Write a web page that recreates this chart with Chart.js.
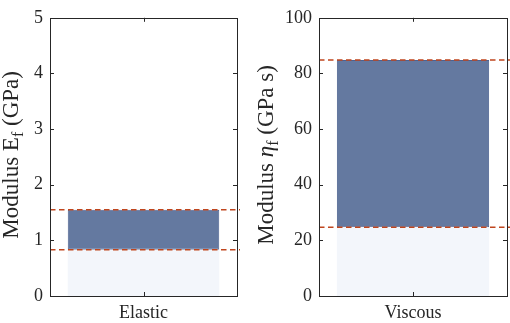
<!DOCTYPE html>
<html>
<head>
<meta charset="utf-8">
<script src="https://cdn.jsdelivr.net/npm/chart.js@4.4.1/dist/chart.umd.min.js"></script>
<style>
html,body{margin:0;padding:0;background:#fff;}
#wrap{position:relative;width:510px;height:323px;}
.cv{position:absolute;top:0;width:255px;height:323px;}
</style>
</head>
<body>
<div id="wrap">
<div class="cv" style="left:0"><canvas id="c1"></canvas></div>
<div class="cv" style="left:255px"><canvas id="c2"></canvas></div>
</div>
<script>
// values
const elasticCat = ['Elastic'];
const elasticLow = 0.83;
const elasticHigh = 1.55;
const elasticTicks = [0, 1, 2, 3, 4, 5];

const viscousCat = ['Viscous'];
const viscousLow = 24.7;
const viscousHigh = 84.8;
const viscousTicks = [0, 20, 40, 60, 80, 100];

const serif = '"Liberation Serif", "Times New Roman", serif';
const ink = '#262626';

// box + inward ticks + dashed bounds + y title with subscript
const boxPlugin = {
  id: 'boxstuff',
  afterDatasetsDraw(chart, args, o) {
    const ctx = chart.ctx, a = chart.chartArea;
    const y = chart.scales.y, x = chart.scales.x;
    ctx.save();
    // dashed bound lines
    ctx.strokeStyle = '#c0461e';
    ctx.lineWidth = 1.5;
    ctx.setLineDash([5.5, 3.5]);
    o.bounds.forEach(v => {
      const py = y.getPixelForValue(v);
      ctx.beginPath();
      ctx.moveTo(a.left, py);
      ctx.lineTo(a.right + 3, py);
      ctx.stroke();
    });
    ctx.setLineDash([]);
    // box
    ctx.strokeStyle = ink;
    ctx.lineWidth = 1;
    ctx.strokeRect(Math.round(a.left) + 0.5, Math.round(a.top) + 0.5,
      Math.round(a.right - a.left), Math.round(a.bottom - a.top));
    // inward ticks
    ctx.beginPath();
    y.ticks.forEach(t => {
      const py = Math.round(y.getPixelForValue(t.value)) + 0.5;
      ctx.moveTo(a.left, py); ctx.lineTo(a.left + 4, py);
      ctx.moveTo(a.right, py); ctx.lineTo(a.right - 4, py);
    });
    const px = Math.round(x.getPixelForValue(0)) + 0.5;
    ctx.moveTo(px, a.bottom); ctx.lineTo(px, a.bottom - 4);
    ctx.moveTo(px, a.top); ctx.lineTo(px, a.top + 4);
    ctx.stroke();
    // y title
    const big = '23px ' + serif, small = '16px ' + serif;
    const fontOf = p => (p.it ? 'italic ' : '') + (p.sub ? small : big);
    let total = 0;
    o.title.forEach(p => { ctx.font = fontOf(p); total += ctx.measureText(p.t).width; });
    ctx.translate(o.tx, (a.top + a.bottom) / 2 - 2);
    ctx.rotate(-Math.PI / 2);
    ctx.fillStyle = ink;
    ctx.textBaseline = 'middle';
    let cx = -total / 2;
    o.title.forEach(p => {
      ctx.font = fontOf(p);
      ctx.fillText(p.t, cx, p.sub ? 7 : 0);
      cx += ctx.measureText(p.t).width;
    });
    ctx.restore();
  }
};

function makeChart(id, cats, low, high, ticks, yw, padR, title, tx) {
  const max = ticks[ticks.length - 1];
  return new Chart(document.getElementById(id), {
    type: 'bar',
    data: {
      labels: cats,
      datasets: [{
        data: [[0, low]],
        backgroundColor: '#f3f6fb',
        borderWidth: 0,
        barPercentage: 0.81,
        categoryPercentage: 1
      }, {
        data: [[low, high]],
        backgroundColor: '#6479a0',
        borderColor: '#4d6290',
        borderWidth: 1,
        borderSkipped: false,
        barPercentage: 0.81,
        categoryPercentage: 1
      }]
    },
    options: {
      responsive: true,
      maintainAspectRatio: false,
      animation: false,
      layout: { padding: { top: 7.5, right: padR, left: 0, bottom: 0 } },
      plugins: {
        legend: { display: false },
        tooltip: { enabled: false },
        boxstuff: { bounds: [low, high], title: title, tx: tx }
      },
      scales: {
        x: {
          stacked: true,
          grid: { display: false, drawTicks: false },
          border: { display: false },
          ticks: { color: ink, font: { family: serif, size: 18 }, padding: 6 },
          afterFit: s => { s.height = 27; }
        },
        y: {
          min: 0, max: max,
          afterBuildTicks: s => { s.ticks = ticks.map(v => ({ value: v })); },
          grid: { display: false, drawTicks: false },
          border: { display: false },
          ticks: { color: ink, font: { family: serif, size: 18 }, padding: 7 },
          afterFit: s => { s.width = yw; }
        }
      }
    },
    plugins: [boxPlugin]
  });
}

makeChart('c1', elasticCat, elasticLow, elasticHigh, elasticTicks, 50, 18,
  [{ t: 'Modulus E' }, { t: 'f', sub: true }, { t: ' (GPa)' }], 12);
makeChart('c2', viscousCat, viscousLow, viscousHigh, viscousTicks, 64, 3,
  [{ t: 'Modulus ' }, { t: 'η', it: true }, { t: 'f', sub: true }, { t: ' (GPa s)' }], 12);
</script>
</body>
</html>
